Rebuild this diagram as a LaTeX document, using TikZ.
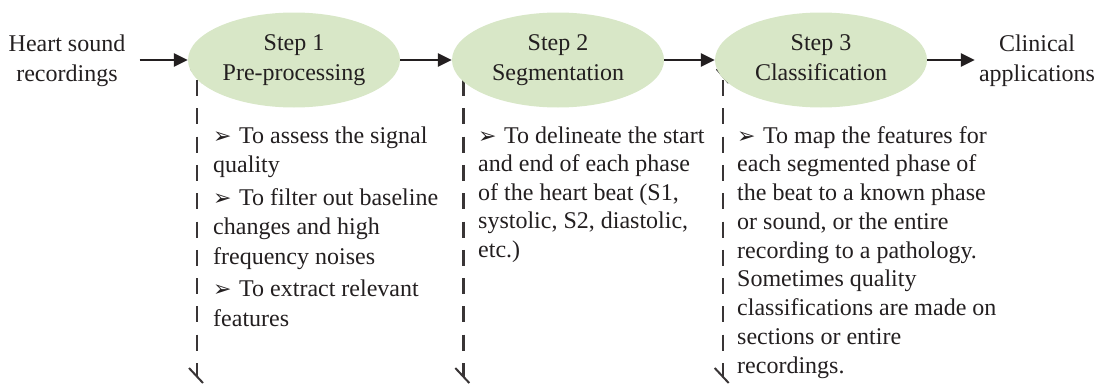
\documentclass[tikz,border=0pt]{standalone}
\usepackage{fontspec}
\setmainfont{Liberation Serif}
\newfontfamily\dv{DejaVu Sans}
\usetikzlibrary{shapes.geometric,arrows.meta}
\definecolor{ink}{RGB}{35,31,32}
\definecolor{stepfill}{RGB}{216,231,199}
\newcommand\bul{\makebox[26pt][l]{\raisebox{0pt}{\dv\fontsize{22}{22}\selectfont ➢}}}
\newcommand\topline{\rule{0pt}{20pt}}
\begin{document}
\begin{tikzpicture}[x=1pt,y=-1pt,
  every node/.style={text=ink},
  stepnode/.style={ellipse, fill=stepfill, minimum width=212pt, minimum height=95pt, inner sep=0pt, align=center, font=\fontsize{24}{29.5}\selectfont},
  lbl/.style={inner sep=0pt, align=center, font=\fontsize{24}{30}\selectfont},
  body/.style={inner sep=0pt, align=left, anchor=north west},
  arr/.style={draw=ink, line width=2.6pt, -{Triangle[length=14pt,width=13pt]}},
  guide/.style={draw=ink!90, line width=2.4pt, dash pattern=on 16pt off 12.3pt},
  tick/.style={draw=ink!90, line width=2pt}]
\useasboundingbox (0,0) rectangle (1103,383);

% dashed guides with end ticks
\foreach \n/\gx in {1/197, 2/463.3, 3/722.7}{
  \coordinate (g\n t) at (\gx,80);
  \coordinate (g\n b) at (\gx,377);
  \draw[guide] (g\n t) -- (g\n b);
  \draw[tick] ([shift={(-6,-11)}]g\n t) -- ([shift={(6,3)}]g\n t);
  \draw[tick] ([shift={(-8,-9)}]g\n b) -- ([shift={(6,6)}]g\n b);
}

% steps
\node[stepnode] (s1) at (294,60) {Step 1\\Pre-processing};
\node[stepnode] (s2) at (558,60) {Step 2\\Segmentation};
\node[stepnode] (s3) at (821,60) {Step 3\\Classification\vphantom{g}};

% end labels
\node[lbl] (hs) at (67,61) {Heart sound\\recordings};
\node[lbl] (ca) at (1037,61) {Clinical\\applications};

\coordinate (hsout) at ([xshift=14pt]hs.east);
\coordinate (cain) at ([xshift=-4pt]ca.west);

% arrows
\draw[arr] (hsout |- s1.west) -- (s1.west);
\draw[arr] (s1.east) -- (s2.west);
\draw[arr] (s2.east) -- (s3.west);
\draw[arr] (s3.east) -- (cain |- s3.east);

% descriptions (top of node = first baseline - 20pt)
\node[body, font=\fontsize{24}{29.5}\selectfont] (b1) at (213,123)
  {\topline\bul To assess the signal\\quality\\[3pt]\bul To filter out baseline\\changes and high\\frequency noises\\[3pt]\bul To extract relevant\\features};
\node[body, font=\fontsize{24}{28.5}\selectfont] (b2) at (478,123)
  {\topline\bul To delineate the start\\and end of each phase\\of the heart beat (S1,\\systolic, S2, diastolic,\\etc.)};
\node[body, font=\fontsize{24}{28.75}\selectfont] (b3) at (737,123)
  {\topline\bul To map the features for\\each segmented phase of\\the beat to a known phase\\or sound, or the entire\\recording to a pathology.\\Sometimes quality\\classifications are made on\\sections or entire\\recordings.};
\end{tikzpicture}
\end{document}
